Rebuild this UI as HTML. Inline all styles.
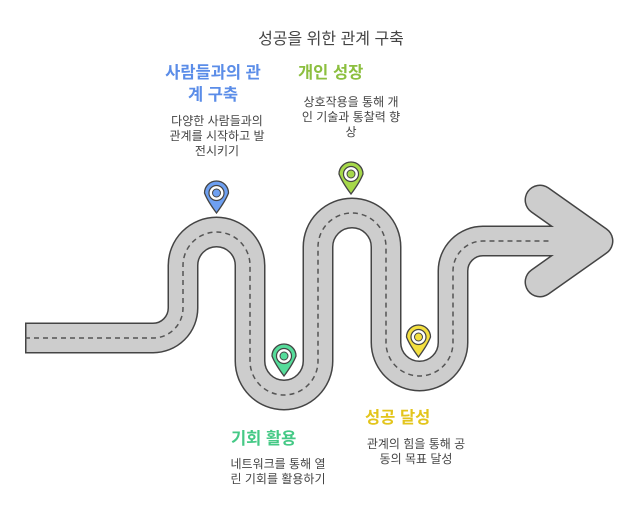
<!DOCTYPE html>
<html><head><meta charset="utf-8"><style>
html,body{margin:0;padding:0;background:#fff;}
body{width:641px;height:515px;position:relative;overflow:hidden;font-family:"Liberation Sans","Noto Sans CJK KR",sans-serif;}
.t{position:absolute;text-align:center;white-space:nowrap;}
.h{font-weight:bold;font-size:16.5px;line-height:22px;}
.d{font-size:12px;color:#444;line-height:15px;}
</style></head><body>
<svg width="641" height="515" style="position:absolute;left:0;top:0">
<defs>
<g id="pin"><path d="M-12,0 A12,12 0 1 1 12,0 Q9,8 0,20 Q-9,8 -12,0Z" stroke="#444" stroke-width="1.3"/><circle r="7.5" fill="#fff" stroke="#444" stroke-width="1.2"/><circle r="4" stroke="#444" stroke-width="1"/></g></defs>
<g fill="none" stroke-linejoin="round">
<path d="M25,338 H153 A30,30 0 0 0 183,308 V265.5 A33.5,33.5 0 0 1 250,265.5 V361 A34,34 0 0 0 318,361 V247 A34,34 0 0 1 386,247 V342.5 A33.5,33.5 0 0 0 453,342.5 V271 A30,30 0 0 1 483,241 H600" stroke="#444" stroke-width="31"/>
<path d="M540,200 L598,241 L540,282" stroke="#444" stroke-width="31" stroke-linecap="round"/>
<path d="M26.5,338 H153 A30,30 0 0 0 183,308 V265.5 A33.5,33.5 0 0 1 250,265.5 V361 A34,34 0 0 0 318,361 V247 A34,34 0 0 1 386,247 V342.5 A33.5,33.5 0 0 0 453,342.5 V271 A30,30 0 0 1 483,241 H600" stroke="#cdcdcd" stroke-width="28"/>
<path d="M540,200 L598,241 L540,282" stroke="#cdcdcd" stroke-width="28" stroke-linecap="round"/>
<path d="M25,338 H153 A30,30 0 0 0 183,308 V265.5 A33.5,33.5 0 0 1 250,265.5 V361 A34,34 0 0 0 318,361 V247 A34,34 0 0 1 386,247 V342.5 A33.5,33.5 0 0 0 453,342.5 V271 A30,30 0 0 1 483,241 H552" stroke="#555" stroke-width="1.5" stroke-dasharray="5,4"/>
</g>
<use href="#pin" x="216.5" y="193" fill="#6ea0f2"/>
<use href="#pin" x="284" y="356" fill="#55dc9a"/>
<use href="#pin" x="351" y="174" fill="#a6d84a"/>
<use href="#pin" x="418.5" y="337" fill="#f4e040"/>
</svg>
<div class="t" style="left:220px;top:25px;width:222px;font-size:16px;color:#444;">성공을 위한 관계 구축</div>
<div class="t h" style="left:133px;top:62px;width:160px;color:#5b8de8;">사람들과의 관<br>계 구축</div>
<div class="t d" style="left:137px;top:114px;width:160px;">다양한 사람들과의<br>관계를 시작하고 발<br>전시키기</div>
<div class="t h" style="left:298px;top:62px;color:#8cbf3f;">개인 성장</div>
<div class="t d" style="left:281px;top:95px;width:140px;">상호작용을 통해 개<br>인 기술과 통찰력 향<br>상</div>
<div class="t h" style="left:231px;top:428px;color:#45c986;">기회 활용</div>
<div class="t d" style="left:208px;top:457px;width:140px;">네트워크를 통해 열<br>린 기회를 활용하기</div>
<div class="t h" style="left:365px;top:407px;color:#e3c51c;">성공 달성</div>
<div class="t d" style="left:346px;top:437px;width:140px;">관계의 힘을 통해 공<br>동의 목표 달성</div>
</body></html>
